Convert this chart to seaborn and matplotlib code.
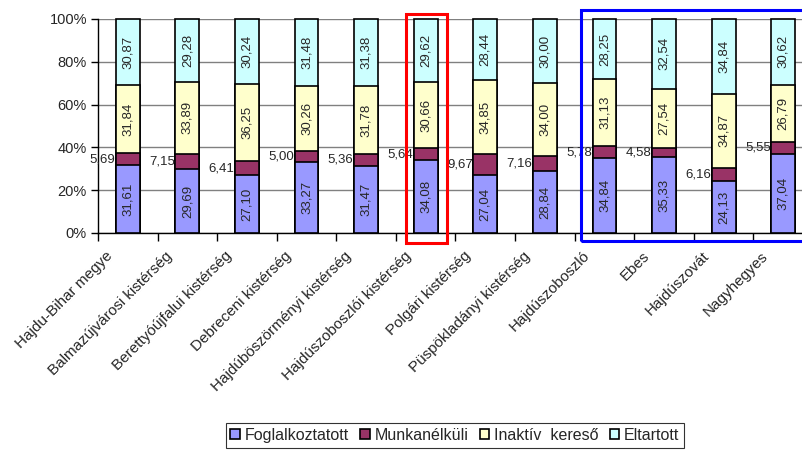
import numpy as np
import pandas as pd
import matplotlib
matplotlib.use("Agg")
import matplotlib.pyplot as plt
import matplotlib.transforms as mtransforms
from matplotlib.patches import Rectangle
import seaborn as sns

# ======================================
# ADATOK
# ======================================
teruletek = [
    "Hajdu-Bihar megye", "Balmazújvárosi kistérség", "Berettyóújfalui kistérség",
    "Debreceni kistérség", "Hajdúböszörményi kistérség", "Hajdúszoboszlói kistérség",
    "Polgári kistérség", "Püspökladányi kistérség", "Hajdúszoboszló",
    "Ebes", "Hajdúszovát", "Nagyhegyes",
]
foglalkoztatott = [31.61, 29.69, 27.10, 33.27, 31.47, 34.08, 27.04, 28.84, 34.84, 35.33, 24.13, 37.04]
munkanelkuli = [5.69, 7.15, 6.41, 5.00, 5.36, 5.64, 9.67, 7.16, 5.78, 4.58, 6.16, 5.55]
inaktiv = [31.84, 33.89, 36.25, 30.26, 31.78, 30.66, 34.85, 34.00, 31.13, 27.54, 34.87, 26.79]
eltartott = [30.87, 29.28, 30.24, 31.48, 31.38, 29.62, 28.44, 30.00, 28.25, 32.54, 34.84, 30.62]

sorozatok = ["Foglalkoztatott", "Munkanélküli", "Inaktív  kereső", "Eltartott"]
szinek = ["#9999FF", "#993366", "#FFFFCC", "#CCFFFF"]

df = pd.DataFrame({
    "terulet": teruletek,
    "Foglalkoztatott": foglalkoztatott,
    "Munkanélküli": munkanelkuli,
    "Inaktív  kereső": inaktiv,
    "Eltartott": eltartott,
})
# halmozott (kumulált) értékek
kum = df[sorozatok].cumsum(axis=1)

# ======================================
# ÁBRA
# ======================================
sns.set_style("white")
plt.rcParams["font.family"] = ["Liberation Sans", "DejaVu Sans"]

W, H = 803, 450
fig = plt.figure(figsize=(W / 100, H / 100), dpi=100)
ax = fig.add_axes([98 / W, 1 - 233 / H, (813 - 98) / W, (233 - 19) / H])

# a legmagasabbtól lefelé rajzolva -> halmozott oszlopok
for nev, szin in reversed(list(zip(sorozatok, szinek))):
    sns.barplot(x=df["terulet"], y=kum[nev], color=szin, width=0.4,
                edgecolor="black", linewidth=1.2, saturation=1, ax=ax,
                label=nev, zorder=3)

for p in ax.patches:
    p.set_clip_on(False)

kezek, cimkek = ax.get_legend_handles_labels()
if ax.get_legend() is not None:
    ax.get_legend().remove()

ax.set_xlim(-0.5, len(teruletek) - 0.5)
ax.set_ylim(0, 100)
ax.set_yticks(np.arange(0, 101, 20))
ax.set_yticklabels([f"{v}%" for v in range(0, 101, 20)], fontsize=10.5)
ax.yaxis.grid(True, color="#808080", linewidth=1)
ax.set_axisbelow(True)
ax.set_xlabel("")
ax.set_ylabel("")

for s in ["top", "right"]:
    ax.spines[s].set_visible(False)
for s in ["left", "bottom"]:
    ax.spines[s].set_color("black")
    ax.spines[s].set_linewidth(1)

ax.tick_params(axis="y", left=True, length=5, width=1, color="black", pad=3)

# x tengely: rovátkák a kategóriák határán
ax.set_xticks(np.arange(len(teruletek)))
ax.set_xticks(np.arange(len(teruletek) + 1) - 0.5, minor=True)
ax.tick_params(axis="x", which="major", length=0, pad=15)
ax.tick_params(axis="x", which="minor", bottom=True, length=6, width=1, color="black")
ax.set_xticklabels(teruletek, rotation=45, ha="right", va="center",
                   rotation_mode="anchor", fontsize=11)
eltolas = mtransforms.ScaledTranslation(-17 / 100, 0, fig.dpi_scale_trans)
for lab in ax.get_xticklabels():
    lab.set_transform(lab.get_transform() + eltolas)

# értékcímkék
fmt = lambda v: f"{v:.2f}".replace(".", ",")
for i in range(len(teruletek)):
    also = 0
    for nev in sorozatok:
        v = df[nev][i]
        kozep = also + v / 2
        if nev == "Munkanélküli":
            ax.text(i - 0.2 - 0.01, kozep, fmt(v), ha="right", va="center",
                    fontsize=9.5, zorder=5)
        else:
            ax.text(i, kozep, fmt(v), ha="center", va="center", rotation=90,
                    fontsize=9.5, zorder=5)
        also += v

# jelmagyarázat
sorrend = [cimkek.index(n) for n in sorozatok]
leg = fig.legend([kezek[k] for k in sorrend], sorozatok, loc="upper center",
                 bbox_to_anchor=(455 / W, 1 - 423 / H), ncol=4, fontsize=11.5,
                 frameon=True, fancybox=False, edgecolor="black",
                 handlelength=0.6, handleheight=0.6, handletextpad=0.3,
                 columnspacing=0.7, borderpad=0.3, borderaxespad=0)
leg.get_frame().set_linewidth(0.8)

# kiemelő keretek
fig.patches.append(Rectangle((406 / W, 1 - 243 / H), 41 / W, 229 / H,
                             transform=fig.transFigure, fill=False,
                             edgecolor="red", linewidth=2.2))
fig.patches.append(Rectangle((581 / W, 1 - 241 / H), 240 / W, 231 / H,
                             transform=fig.transFigure, fill=False,
                             edgecolor="blue", linewidth=2.2))

fig.savefig("out.png", dpi=100)
